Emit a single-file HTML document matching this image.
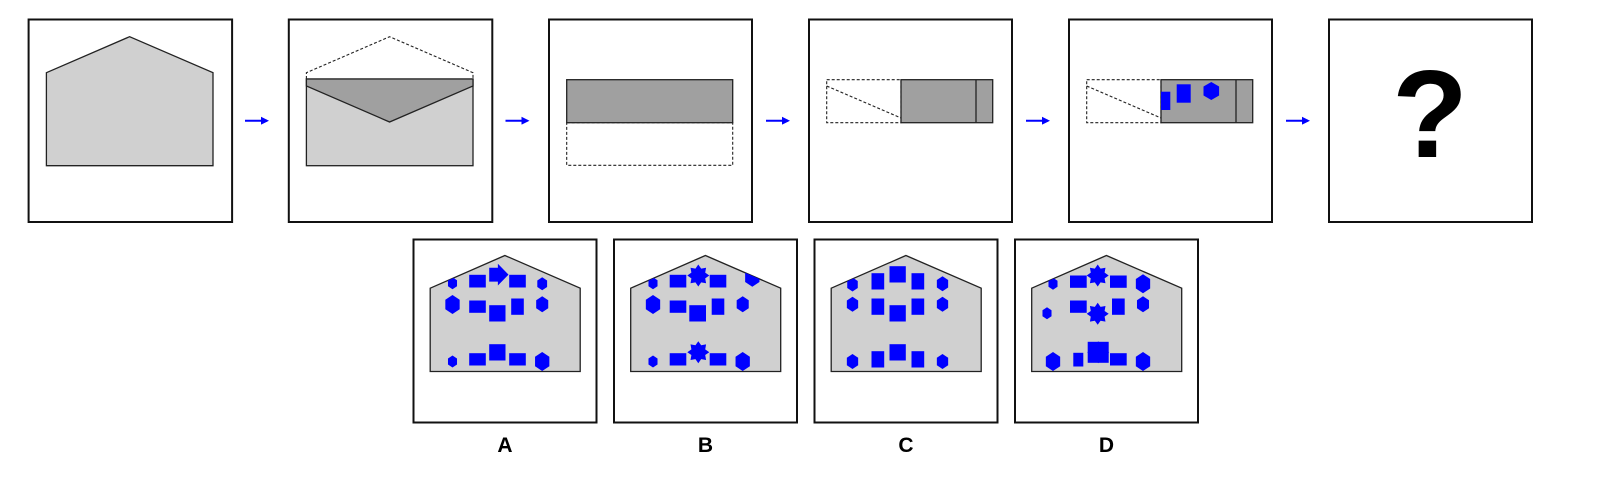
<!DOCTYPE html>
<html><head><meta charset="utf-8"><style>
html,body{margin:0;padding:0;background:#fff;width:1610px;height:490px;overflow:hidden}
svg{display:block}
</style></head><body>
<svg id="root" width="1610" height="490" viewBox="0 0 1610 490" xmlns="http://www.w3.org/2000/svg">
<defs>
<marker id="ah" markerWidth="4" markerHeight="4" refX="3" refY="2" orient="auto"><path d="M0,0 L4,2 L0,4 z" fill="#0000ff"/></marker>
</defs>
<!-- Panel 1 -->
<g>
<rect x="28.6" y="19.5" width="203.5" height="202.5" fill="#fff" stroke="#111" stroke-width="2"/>
<polygon points="46.4,72.7 129.6,36.7 213,72.7 213,165.7 46.4,165.7" fill="#d0d0d0" stroke="#222" stroke-width="1.3"/>
</g>
<!-- Panel 2 -->
<g>
<rect x="288.8" y="19.5" width="203.5" height="202.5" fill="#fff" stroke="#111" stroke-width="2"/>
<polyline points="306.4,79 306.4,72.7 389.6,36.7 473,72.7 473,79" fill="none" stroke="#222" stroke-width="1.1" stroke-dasharray="3,2"/>
<rect x="306.4" y="79" width="166.6" height="86.7" fill="#d0d0d0" stroke="#222" stroke-width="1.3"/>
<polygon points="306.4,79 473,79 473,86 389.6,122 306.4,86" fill="#a0a0a0" stroke="#222" stroke-width="1.3"/>
</g>
<!-- Panel 3 -->
<g>
<rect x="549" y="19.5" width="203" height="202.5" fill="#fff" stroke="#111" stroke-width="2"/>
<rect x="566.7" y="122.7" width="166" height="42.6" fill="#fff" stroke="#222" stroke-width="1.1" stroke-dasharray="3,2"/>
<rect x="566.7" y="79.7" width="166" height="43" fill="#a0a0a0" stroke="#222" stroke-width="1.3"/>
</g>
<!-- Panel 4 -->
<g>
<rect x="809" y="19.5" width="203" height="202.5" fill="#fff" stroke="#111" stroke-width="2"/>
<rect x="826.7" y="79.7" width="74.3" height="43" fill="#fff" stroke="#222" stroke-width="1.1" stroke-dasharray="3,2"/>
<line x1="826.7" y1="86" x2="901" y2="118" stroke="#222" stroke-width="1.1" stroke-dasharray="3,2"/>
<rect x="901" y="79.7" width="91.7" height="43" fill="#a0a0a0" stroke="#222" stroke-width="1.3"/>
<line x1="976" y1="79.7" x2="976" y2="122.7" stroke="#222" stroke-width="1.3"/>
</g>
<!-- Panel 5 -->
<g>
<rect x="1069" y="19.5" width="203" height="202.5" fill="#fff" stroke="#111" stroke-width="2"/>
<rect x="1086.7" y="79.7" width="74.3" height="43" fill="#fff" stroke="#222" stroke-width="1.1" stroke-dasharray="3,2"/>
<line x1="1086.7" y1="86" x2="1161" y2="118" stroke="#222" stroke-width="1.1" stroke-dasharray="3,2"/>
<rect x="1161" y="79.7" width="91.7" height="43" fill="#a0a0a0" stroke="#222" stroke-width="1.3"/>
<line x1="1236" y1="79.7" x2="1236" y2="122.7" stroke="#222" stroke-width="1.3"/>
<rect x="1161" y="91.7" width="9.3" height="18.3" fill="#0000ff"/>
<rect x="1176.7" y="84.3" width="14" height="18.4" fill="#0000ff"/>
<polygon points="1211.3,82 1219.1,86.5 1219.1,95.5 1211.3,100 1203.5,95.5 1203.5,86.5" fill="#0000ff"/>
</g>
<!-- Panel 6 -->
<g>
<rect x="1329" y="19.5" width="203" height="202.5" fill="#fff" stroke="#111" stroke-width="2"/>
<text x="1430" y="157" text-anchor="middle" font-family="Liberation Sans, sans-serif" font-weight="bold" font-size="124" fill="#000">?</text>
</g>
<!-- arrows -->
<g id="arrows"></g>
<g id="options"></g>
</svg>
<script>
var NS='http://www.w3.org/2000/svg';
var svg=document.getElementById('root');
var arrowXs=[245,505.5,766,1026,1286];
var ag=document.getElementById('arrows');
arrowXs.forEach(function(x){
  var l=document.createElementNS(NS,'line');
  l.setAttribute('x1',x);l.setAttribute('y1',120.7);l.setAttribute('x2',x+22);l.setAttribute('y2',120.7);
  l.setAttribute('stroke','#0000ff');l.setAttribute('stroke-width','2');l.setAttribute('marker-end','url(#ah)');
  
  
  ag.appendChild(l);
});
var optionLabels=['A','B','C','D'];
var optionXs=[413.5,614,814.5,1015];
// shapes: [type, a, b, c, d]  hex: cx,cy,r ; rect: x1,x2,y1,y2 ; star: cx,cy,r ; arrow: x1,x2,y1,y2
var shapesA=[['hex',39,43.7,6],['rect',55.7,72.3,35.3,48],['arrow',75.7,95,24.3,46],['rect',95.7,112.3,35.3,48],['hex',128.7,44.3,6.5],
['hex',39,65,9.5],['rect',55.7,72.3,61,73.3],['rect',75.7,92,65.7,82],['rect',97.7,110.3,59,75.3],['hex',128.7,64.7,8],
['hex',39,122,6],['rect',55.7,72.3,113.7,126],['rect',75.7,92,104.7,121],['rect',95.7,112.3,113.7,126],['hex',128.7,122,9.5]];
var shapesB=[['hex',39,43.7,6],['rect',55.7,72.3,35.3,48],['star',84.3,36,11],['rect',95.7,112.3,35.3,48],['hex',138.3,37.7,9.5],
['hex',39,65,9.5],['rect',55.7,72.3,61,73.3],['rect',75.3,92,65.7,82],['rect',97.7,110.3,59,75.3],['hex',128.7,64.7,8],
['hex',39,122,6],['rect',55.7,72.3,113.7,126],['star',84.3,112.7,11],['rect',95.7,112.3,113.7,126],['hex',128.7,122,9.5]];
var shapesC=[['hex',38,45,7],['rect',57,69.7,33.7,50],['rect',75,91.3,26.7,43],['rect',97,109.7,33.7,50],['hex',128,44.3,7.5],
['hex',38,64.7,7.5],['rect',57,69.7,59,75.3],['rect',75,91.3,65.7,82],['rect',97,109.7,59,75.3],['hex',128,64.7,7.5],
['hex',38,122,7.5],['rect',57,69.7,111.7,128],['rect',75,91.3,104.7,121],['rect',97,109.7,111.7,128],['hex',128,122,7.5]];
var shapesD=[['hex',38,44.3,6],['rect',55,71.7,36,48.3],['star',82.7,36,11],['rect',95,111.7,36,48.3],['hex',128,44.3,9.5],
['hex',32,73.7,6],['rect',55,71.7,61,73.3],['star',82.7,74.3,11],['rect',97,109.7,59,75.3],['hex',128,64.7,8],
['hex',38,122,9.5],['rect',58.3,68.3,113.3,127],['star',83.2,112.8,11],['rect',72.7,93.7,102.3,123.3],['rect',95,111.7,113.7,126],['hex',128,122,9.5]];
var allShapes=[shapesA,shapesB,shapesC,shapesD];
var og=document.getElementById('options');
function poly(pts){return pts.map(function(p){return p[0].toFixed(2)+','+p[1].toFixed(2)}).join(' ');}
function hexPts(cx,cy,r){var p=[];for(var k=0;k<6;k++){var a=Math.PI/2+k*Math.PI/3;p.push([cx+r*0.87*Math.cos(a)/0.87*0.87,cy+r*Math.sin(a)]);}return p;}
function starPts(cx,cy,r){var p=[];for(var k=0;k<16;k++){var a=-Math.PI/2+k*Math.PI/8;var rr=k%2?r*0.68:r;p.push([cx+rr*Math.cos(a),cy+rr*Math.sin(a)]);}return p;}
optionXs.forEach(function(ox,i){
  var top=239.5;
  var g=document.createElementNS(NS,'g');
  
  
  var box=document.createElementNS(NS,'rect');
  box.setAttribute('x',ox);box.setAttribute('y',top);box.setAttribute('width',183);box.setAttribute('height',183);
  box.setAttribute('fill','#fff');box.setAttribute('stroke','#111');box.setAttribute('stroke-width','2');
  
  
  g.appendChild(box);
  var pent=[[16.7,48.7],[91.4,16],[166.7,48.7],[166.7,132],[16.7,132]].map(function(p){return [ox+p[0],top+p[1]];});
  var cp=document.createElementNS(NS,'clipPath');cp.setAttribute('id','cp'+i);
  var cpp=document.createElementNS(NS,'polygon');cpp.setAttribute('points',poly(pent));cp.appendChild(cpp);g.appendChild(cp);
  var pg=document.createElementNS(NS,'polygon');
  pg.setAttribute('points',poly(pent));pg.setAttribute('fill','#d0d0d0');pg.setAttribute('stroke','#222');pg.setAttribute('stroke-width','1.3');
  
  
  g.appendChild(pg);
  var sg=document.createElementNS(NS,'g');sg.setAttribute('clip-path','url(#cp'+i+')');
  allShapes[i].forEach(function(s){
    var el;
    if(s[0]==='rect'){
      el=document.createElementNS(NS,'rect');
      el.setAttribute('x',ox+s[1]);el.setAttribute('y',top+s[3]);el.setAttribute('width',s[2]-s[1]);el.setAttribute('height',s[4]-s[3]);
    } else if(s[0]==='hex'){
      el=document.createElementNS(NS,'polygon');el.setAttribute('points',poly(hexPts(ox+s[1],top+s[2],s[3])));
    } else if(s[0]==='star'){
      el=document.createElementNS(NS,'polygon');el.setAttribute('points',poly(starPts(ox+s[1],top+s[2],s[3])));
    } else {
      var x1=ox+s[1],x2=ox+s[2],y1=top+s[3],y2=top+s[4],ym=(y1+y2)/2,xm=x1+(x2-x1)*0.45,h=(y2-y1);
      el=document.createElementNS(NS,'polygon');
      el.setAttribute('points',poly([[x1,ym-h*0.32],[xm,ym-h*0.32],[xm,y1],[x2,ym],[xm,y2],[xm,ym+h*0.32],[x1,ym+h*0.32]]));
    }
    el.setAttribute('fill','#0000ff');
    
    
    sg.appendChild(el);
  });
  g.appendChild(sg);
  var t=document.createElementNS(NS,'text');
  t.setAttribute('x',ox+91.5);t.setAttribute('y',452);t.setAttribute('text-anchor','middle');
  t.setAttribute('font-family','Liberation Sans, sans-serif');t.setAttribute('font-weight','bold');t.setAttribute('font-size','21');
  t.textContent=optionLabels[i];
  
  
  g.appendChild(t);
  og.appendChild(g);
});
</script>
</body></html>
